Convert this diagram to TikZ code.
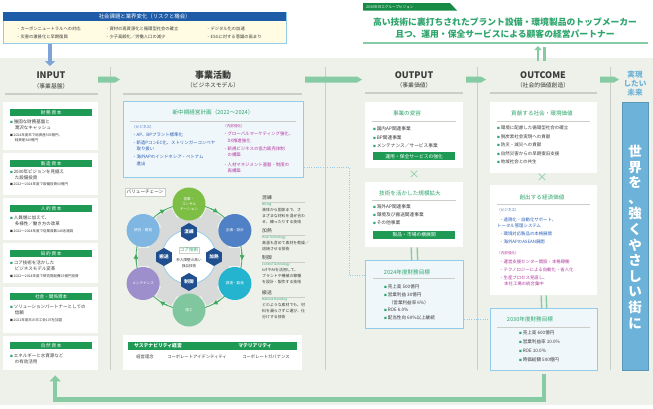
\documentclass[tikz,border=0pt]{standalone}
\usepackage{fontspec}
\setmainfont{Noto Sans CJK JP}
\usetikzlibrary{arrows.meta,shapes.geometric,calc}

\definecolor{panel}{HTML}{EDF1E9}
\definecolor{hgreen}{HTML}{1E9A55}
\definecolor{tabgreen}{HTML}{178A46}
\definecolor{tgreen}{HTML}{2EA56C}
\definecolor{lgreen}{HTML}{86CBA3}
\definecolor{ringg}{HTML}{3FAA5E}
\definecolor{hblue}{HTML}{1F5CA8}
\definecolor{ablue}{HTML}{7EA3D8}
\definecolor{pyellow}{HTML}{FFFCE3}
\definecolor{lblue}{HTML}{93CCE8}
\definecolor{paleblue}{HTML}{F0F7FB}
\definecolor{skyb}{HTML}{6DB2D8}
\definecolor{bizblue}{HTML}{2A5DB5}
\definecolor{magen}{HTML}{B23A9E}
\definecolor{ink}{HTML}{3A3A3A}
\definecolor{sepgray}{HTML}{CACEC6}
\definecolor{hexblue}{HTML}{1F4F8E}
\definecolor{geargray}{HTML}{D8DAD9}
\definecolor{cgreen}{HTML}{7DBE44}
\definecolor{cblue}{HTML}{5080C5}
\definecolor{cteal}{HTML}{25B4CF}
\definecolor{cmint}{HTML}{80C69E}
\definecolor{cpurple}{HTML}{9D8FCB}
\definecolor{clight}{HTML}{7FB7E2}

\newcommand{\fsz}[2]{\fontsize{#1}{#2}\selectfont}
\newcommand{\gb}{{\color{tgreen}\fsz{2.8}{3}■}\,}
\newcommand{\nb}{{\fsz{2.8}{3}■}\,}
\newcommand{\ind}{\hspace*{4.6pt}}

\begin{document}
\begin{tikzpicture}[x=1pt,y=-1pt,
  tx/.style={anchor=west,inner sep=0pt,text=ink,align=left,font=\fsz{4.5}{6}},
  note/.style={anchor=west,inner sep=0pt,text=ink,align=left,font=\fsz{3.5}{5}},
  card/.style={fill=white,inner sep=0pt,anchor=north west},
  bar/.style={fill=hgreen,text=white,inner sep=0pt,anchor=north west,font=\fsz{4.6}{5}},
  goal/.style={fill=paleblue,draw=lblue,line width=1.3pt,inner sep=0pt,anchor=north west},
  ttl/.style={text=tgreen,inner sep=0pt,font=\fsz{5.6}{6}},
  hd/.style={inner sep=0pt,text=ink,font=\fsz{9}{10}\bfseries},
  sub/.style={inner sep=0pt,text=ink,font=\fsz{5.8}{7}},
  rul/.style={draw=sepgray,line width=0.8pt},
  dots/.style={draw=lblue,line width=1pt,dash pattern=on 1pt off 1.3pt},
  twin/.style={draw=lgreen,line width=1.4pt},
  vc/.style={circle,minimum size=33pt,inner sep=0pt,text=white,align=center,font=\fsz{3.6}{4.6}},
  hx/.style={regular polygon,regular polygon sides=6,shape border rotate=30,minimum size=18pt,fill=hexblue,text=white,inner sep=0pt,font=\fsz{4.6}{5}\bfseries},
  tech/.style={anchor=west,inner sep=0pt,text=ink,font=\fsz{4.8}{5}},
  eng/.style={anchor=west,inner sep=0pt,text=tgreen,font=\fsz{3}{4}},
  desc/.style={anchor=west,inner sep=0pt,text=ink,align=left,font=\fsz{3.9}{6}}]
\useasboundingbox (0,0) rectangle (653,408);
\fill[panel] (0,58) rectangle (653,405);

% issues and vision
\node[fill=pyellow,draw=lblue,line width=0.6pt,inner sep=0pt,anchor=north west,minimum width=283pt,minimum height=31pt] (issues) at (3,12) {};
\node[fill=hblue,text=white,inner sep=0pt,anchor=north west,minimum width=283pt,minimum height=8.5pt,font=\fsz{5.4}{6}] (issuesT) at (3,12) {社会課題と業界変化（リスクと機会）};
\node[tx,font=\fsz{4.3}{8}] (iss1) at (16,33) {\textcolor{hblue}{・}カーボンニュートラルへの対応\\\textcolor{hblue}{・}災害の激甚化と早期復興};
\node[tx,font=\fsz{4.3}{8}] (iss2) at (105,33) {\textcolor{hblue}{・}資材の再資源化と循環型社会の確立\\\textcolor{hblue}{・}少子高齢化／労働人口の減少};
\node[tx,font=\fsz{4.3}{8}] (iss3) at (206,33) {\textcolor{hblue}{・}デジタル化の加速\\\textcolor{hblue}{・}ESGに対する意識の高まり};
\coordinate (inTop) at (50,66);
\draw[ablue,line width=4.5pt,-{Triangle[width=10pt,length=5pt]}] ([xshift=47pt]issues.south west) -- (inTop);

\fill[tabgreen] (363,3) -- (450,3) -- (457,10.5) -- (363,10.5) -- cycle;
\node[anchor=west,inner sep=0pt,text=white,font=\fsz{3.6}{4}] (vtab) at (366,6.8) {2030年日工グループビジョン};
\node[text=tgreen,inner sep=0pt,align=center,font=\fsz{8.8}{12}\bfseries] (vision) at (505,28) {高い技術に裏打ちされたプラント設備・環境製品のトップメーカー\\且つ、運用・保全サービスによる顧客の経営パートナー};
\draw[lgreen,line width=1.2pt] (363,43) -- (648,43);
\coordinate (visA) at (538,46);
\coordinate (visB) at (544.5,47);
\draw[lgreen,line width=2.6pt,-{Triangle[width=7pt,length=4pt]}] (538,61) -- (visA);
\draw[lgreen,line width=2.6pt] (544.5,61) -- (visB);

% columns
\foreach \x in {110,325,477,610}
  \draw[rul] (\x,67) -- (\x,370);
\foreach \a/\b in {98/120,305/362,466/486,600/619}
  \fill[lgreen] (\a,76.5) -- (\b-5,76.5) -- (\b,79.5) -- (\b-5,82.5) -- (\a,82.5) -- cycle;

\node[hd] (inH) at (51,75) {INPUT};
\node[sub] (inS) at (51,86) {（事業基盤）};
\draw[rul,line width=1.2pt] (5,94) -- (98,94);
\node[hd] (bizH) at (213,75) {事業活動};
\node[sub] (bizS) at (213,85.5) {（ビジネスモデル）};
\draw[rul,line width=1.2pt] (123,94) -- (302,94);
\node[hd] (outH) at (414,75) {OUTPUT};
\node[sub] (outS) at (414,85) {（事業価値）};
\draw[rul,line width=1.2pt] (365,93) -- (463,93);
\node[hd] (ocH) at (543,75) {OUTCOME};
\node[sub] (ocS) at (543,85) {（社会的価値創造）};
\draw[rul,line width=1.2pt] (490,93) -- (597,93);
\node[text=skyb,inner sep=0pt,align=center,font=\fsz{7.6}{9}\bfseries] (futH) at (635,84) {実現\\したい\\未来};

\node[fill=skyb,draw=skyb!85!black,line width=0.6pt,inner sep=0pt,anchor=north west,minimum width=26pt,minimum height=268pt] (future) at (622,102) {};
\node[text=white,inner sep=0pt,align=center,font=\fsz{13.5}{15.6}\bfseries] (futT) at (635,237) {世\\界\\を\\、\\強\\く\\や\\さ\\し\\い\\街\\に};

% INPUT
\node[card,minimum width=95pt,minimum height=48pt] (fin) at (3,102) {};
\node[bar,minimum width=82pt,minimum height=7pt] (finT) at (10,109) {財\,務\,資\,本};
\node[tx] (fin1) at (10,125) {\gb 強固な財務基盤と\\\ind 潤沢なキャッシュ};
\node[note] (fin2) at (10,137.5) {\nb 2024年度末で総資産505億円、\\\ind 純資産340億円};
\node[card,minimum width=95pt,minimum height=42pt] (mfg) at (3,153) {};
\node[bar,minimum width=82pt,minimum height=7pt] (mfgT) at (10,160) {製\,造\,資\,本};
\node[tx] (mfg1) at (10,175) {\gb 2030年ビジョンを見据え\\\ind た設備投資};
\node[note] (mfg2) at (10,184) {\nb 2022～2024年度で設備投資60億円};
\node[card,minimum width=95pt,minimum height=42pt] (hum) at (3,198) {};
\node[bar,minimum width=82pt,minimum height=7pt] (humT) at (10,205) {人\,的\,資\,本};
\node[tx] (hum1) at (10,221) {\gb 人員増に加えて、\\\ind 多様性／働き方の改革};
\node[note] (hum2) at (10,231) {\nb 2022～2024年度で従業員数146名増員};
\node[card,minimum width=95pt,minimum height=40pt] (ip) at (3,243) {};
\node[bar,minimum width=82pt,minimum height=7pt] (ipT) at (10,250) {知\,的\,資\,本};
\node[tx] (ip1) at (10,266) {\gb コア技術を活かした\\\ind ビジネスモデル変革};
\node[note] (ip2) at (10,276) {\nb 2022～2024年度で研究開発費25億円投資};
\node[card,minimum width=95pt,minimum height=46pt] (soc) at (3,287) {};
\node[bar,minimum width=82pt,minimum height=7pt] (socT) at (10,293) {社会・関係資本};
\node[tx] (soc1) at (10,310) {\gb ソリューションパートナーとしての\\\ind 信頼};
\node[note] (soc2) at (10,320) {\nb 2021年度末の日工会107社加盟};
\node[card,minimum width=95pt,minimum height=34pt] (nat) at (3,336) {};
\node[bar,minimum width=82pt,minimum height=7pt] (natT) at (10,342) {自\,然\,資\,本};
\node[tx] (nat1) at (10,359) {\gb エネルギーと水資源など\\\ind の有効活用};

% business model
\node[goal,minimum width=180pt,minimum height=76pt] (plan) at (123,101) {};
\node[ttl] (planT) at (213,112) {新中期経営計画（2022～2024）};
\draw[rul] (130,121) -- (296,121);
\node[tx,text=bizblue,font=\fsz{3.6}{5}] (planB) at (132,127) {（ビジネス）};
\node[tx,text=bizblue,font=\fsz{4.4}{6.5}] (planB1) at (132,149) {・AP、BPプラント標準化\\[1.5pt]・新造PコンEC化、ストリンガーコンベヤ\\\hspace*{4.4pt}取り扱い\\[1.5pt]・海外APのインドネシア・ベトナム\\\hspace*{4.4pt}進出};
\node[tx,text=magen,font=\fsz{3.6}{5}] (planI) at (223,126) {（内部強化）};
\node[tx,text=magen,font=\fsz{4.4}{6.5}] (planI1) at (223,152.5) {・グローバルマーケティング強化、\\\hspace*{4.4pt}DX推進強化\\[1.5pt]・新規ビジネスの協力販売体制\\\hspace*{4.4pt}の構築\\[3pt]・人材マネジメント基盤・制度の\\\hspace*{4.4pt}再構築};

\node[draw=sepgray,fill=white,inner sep=1.8pt,text=ink,font=\fsz{4.6}{5}] (vcT) at (145,192) {バリューチェーン};
\coordinate (C) at (189,257);
\fill[geargray] (C) circle (41);
\foreach \a in {0,60,...,300}
  \fill[geargray,rotate around={\a:(C)}] ($(C)+(30,-9)$) rectangle ($(C)+(51,9)$);
\draw[lblue,line width=0.8pt,fill=white] (C) circle (27);
\draw[ringg,line width=0.8pt] (C) circle (53);
\foreach \a in {-60,0,...,240}
  \draw[ringg,line width=0.8pt,-{Triangle[length=4.5pt,width=4.5pt]}] (C) ++(\a-6:53) arc[start angle=\a-6,end angle=\a+3,radius=53];
\node[vc,fill=cgreen] (sales) at ($(C)+(-90:53)$) {営業・\\コンサル\\テーション};
\node[vc,fill=cblue] (design) at ($(C)+(-30:53)$) {企画・設計};
\node[vc,fill=cteal] (procure) at ($(C)+(30:53)$) {調達・製造};
\node[vc,fill=cmint] (build) at ($(C)+(90:53)$) {施工};
\node[vc,fill=cpurple] (maint) at ($(C)+(150:53)$) {メンテナンス};
\node[vc,fill=clight] (rnd) at ($(C)+(210:53)$) {研究・開発};
\node[hx] (mix) at ($(C)+(-90:25)$) {混練};
\node[hx] (heat) at ($(C)+(0:25)$) {加熱};
\node[hx] (ctrl) at ($(C)+(90:25)$) {制御};
\node[hx] (carry) at ($(C)+(180:25)$) {搬送};
\node[draw=sepgray,fill=white,inner sep=1pt,text=tgreen,font=\fsz{4.6}{5}] (core) at (189,250) {コア技術};
\node[inner sep=0pt,align=center,text=ink,font=\fsz{3.6}{6}] (coreD) at (189,263.5) {参入障壁の高い\\独自技術};

\node[tech] (mixT) at (262,198) {混練};
\draw[rul,line width=0.4pt] (262,202) -- (305,202);
\node[eng] (mixE) at (262,205) {Mixing};
\node[desc] (mixD) at (262,216) {液体から固体まで、さ\\まざまな材料を混ぜ合わ\\せ、練ったりする技術};
\node[tech] (heatT) at (262,231) {加熱};
\draw[rul,line width=0.4pt] (262,235) -- (305,235);
\node[eng] (heatE) at (262,238) {Heat Technology};
\node[desc] (heatD) at (262,246) {高温も含めて素材を乾燥／\\焙焼させる技術};
\node[tech] (ctrlT) at (262,258) {制御};
\draw[rul,line width=0.4pt] (262,262) -- (305,262);
\node[eng] (ctrlE) at (262,265) {Control Technology};
\node[desc] (ctrlD) at (262,276) {IoTやAIを活用して、\\プラントや機械の稼働\\を設計・製作する技術};
\node[tech] (carryT) at (262,293) {搬送};
\draw[rul,line width=0.4pt] (262,297) -- (305,297);
\node[eng] (carryE) at (262,300) {Material Handling};
\node[desc] (carryD) at (262,311) {どのような素材でも、材\\料を漏らさずに運び、仕\\分けする技術};

\node[card,minimum width=179pt,minimum height=35pt] (sust) at (123,335) {};
\node[bar,minimum width=169pt,minimum height=8.5pt] (sustT) at (128,341.5) {};
\node[text=white,inner sep=0pt,font=\fsz{4.8}{5}\bfseries] (sustA) at (158,345.8) {サステナビリティ経営};
\node[text=white,inner sep=0pt,font=\fsz{4.8}{5}\bfseries] (sustB) at (255,345.8) {マテリアリティ};
\node[text=ink,inner sep=0pt,font=\fsz{4.3}{5}] (sust1) at (145,356.5) {経営理念};
\node[text=ink,inner sep=0pt,font=\fsz{4.3}{5}] (sust2) at (197,356.5) {コーポレートアイデンティティ};
\node[text=ink,inner sep=0pt,font=\fsz{4.3}{5}] (sust3) at (266,356.5) {コーポレートガバナンス};

% OUTPUT
\node[card,minimum width=98pt,minimum height=66pt] (busA) at (365,102) {};
\node[ttl] (busAT) at (407,113) {事業の変容};
\draw[rul] (372,121) -- (456,121);
\node[tx,font=\fsz{4.7}{8.5}] (busA1) at (373,137.5) {\gb 国内AP関連事業\\\gb BP関連事業\\\gb メンテナンス／サービス事業};
\node[bar,minimum width=82pt,minimum height=8pt,font=\fsz{4.8}{5}] (busAB) at (373,152) {運用・保全サービスの強化};
\node[text=lgreen,inner sep=0pt,font=\fsz{11}{12}] (timesA) at (414,175) {×};
\node[card,minimum width=98pt,minimum height=65pt] (busB) at (365,182) {};
\node[ttl] (busBT) at (410,193) {技術を活かした規模拡大};
\draw[rul] (372,200) -- (456,200);
\node[tx,font=\fsz{4.7}{8}] (busB1) at (373,215) {\gb 海外AP関連事業\\\gb 環境及び搬送関連事業\\\gb その他事業};
\node[bar,minimum width=82pt,minimum height=8pt,font=\fsz{4.8}{5}] (busBB) at (373,230.5) {製品・市場の横展開};

\node[goal,minimum width=98pt,minimum height=68pt] (fin24) at (365,260) {};
\draw[twin] ([xshift=-3pt]busB.south) -- ([xshift=-3pt]fin24.north);
\draw[twin] ([xshift=3pt]busB.south) -- ([xshift=3pt]fin24.north);
\node[ttl] (fin24T) at (407,272) {2024年度財務目標};
\draw[rul] (373,278.5) -- (455,278.5);
\node[tx,font=\fsz{4.6}{7.7}] (fin24I) at (384,302.5) {\gb 売上高 500億円\\\gb 営業利益 30億円\\\ind（営業利益率 6\%）\\\gb ROE 6.0\%\\\gb 配当性向 60\%以上継続};
\draw[dots] ([yshift=11pt]plan.south east) -- ++(45,0) |- ([yshift=19pt]fin24.west);

% OUTCOME
\node[card,minimum width=107pt,minimum height=71pt] (valS) at (490,102) {};
\node[ttl] (valST) at (542,113) {貢献する社会・環境価値};
\draw[rul] (497,121) -- (590,121);
\node[tx,font=\fsz{4.5}{8.5}] (valS1) at (497,145) {\gb 環境に配慮した循環型社会の確立\\\gb 脱炭素社会実現への貢献\\\gb 防災・減災への貢献\\\gb 自然災害からの早期復旧支援\\\gb 地域社会との共生};
\node[text=lgreen,inner sep=0pt,font=\fsz{11}{12}] (timesB) at (542,178) {×};
\node[card,minimum width=107pt,minimum height=110pt] (valE) at (490,185) {};
\node[ttl] (valET) at (542,197) {創出する経済価値};
\draw[rul] (497,204) -- (590,204);
\node[tx,text=bizblue,font=\fsz{3.6}{5}] (valEB) at (497,210.5) {（ビジネス）};
\node[tx,text=bizblue,font=\fsz{4.4}{8}] (valEB1) at (497,231) {\hspace*{2pt}・遠隔化・自動化サポート、\\[-1.5pt]トータル管理システム\\\hspace*{2pt}・環境対応製品の本格展開\\\hspace*{2pt}・海外APのASEAN展開};
\node[tx,text=magen,font=\fsz{3.6}{5}] (valEI) at (497,253) {（内部強化）};
\node[tx,text=magen,font=\fsz{4.4}{8}] (valEI1) at (497,273) {\hspace*{2pt}・運営支援センター開設・本格稼働\\\hspace*{2pt}・テクノロジーによる自動化・省人化\\\hspace*{2pt}・生産プロセス見直し、\\[-1.5pt]\hspace*{7pt}本社工場の統合集中};

\node[goal,minimum width=107pt,minimum height=62pt] (fin30) at (490,308) {};
\draw[twin] ([xshift=-2.5pt]valE.south) -- ([xshift=-2.5pt]fin30.north);
\draw[twin] ([xshift=2.5pt]valE.south) -- ([xshift=2.5pt]fin30.north);
\node[ttl] (fin30T) at (530,319) {2030年度財務目標};
\draw[rul] (497,327) -- (590,327);
\node[tx,font=\fsz{4.6}{9}] (fin30I) at (519,346.5) {\gb 売上高 600億円\\\gb 営業利益率 10.0\%\\\gb ROE 10.0\%\\\gb 時価総額 500億円};
\draw[dots] ([yshift=-25pt]fin24.east) -- ([yshift=-25pt]fin24.east -| fin30.west);

% feedback loop
\draw[draw=lgreen,line width=4.5pt,-{Triangle[width=11pt,length=6pt]}] ([yshift=-3pt]fin30.south) -- ++(0,25) -| ([xshift=4.5pt,yshift=-5pt]nat.south);
\end{tikzpicture}
\end{document}
